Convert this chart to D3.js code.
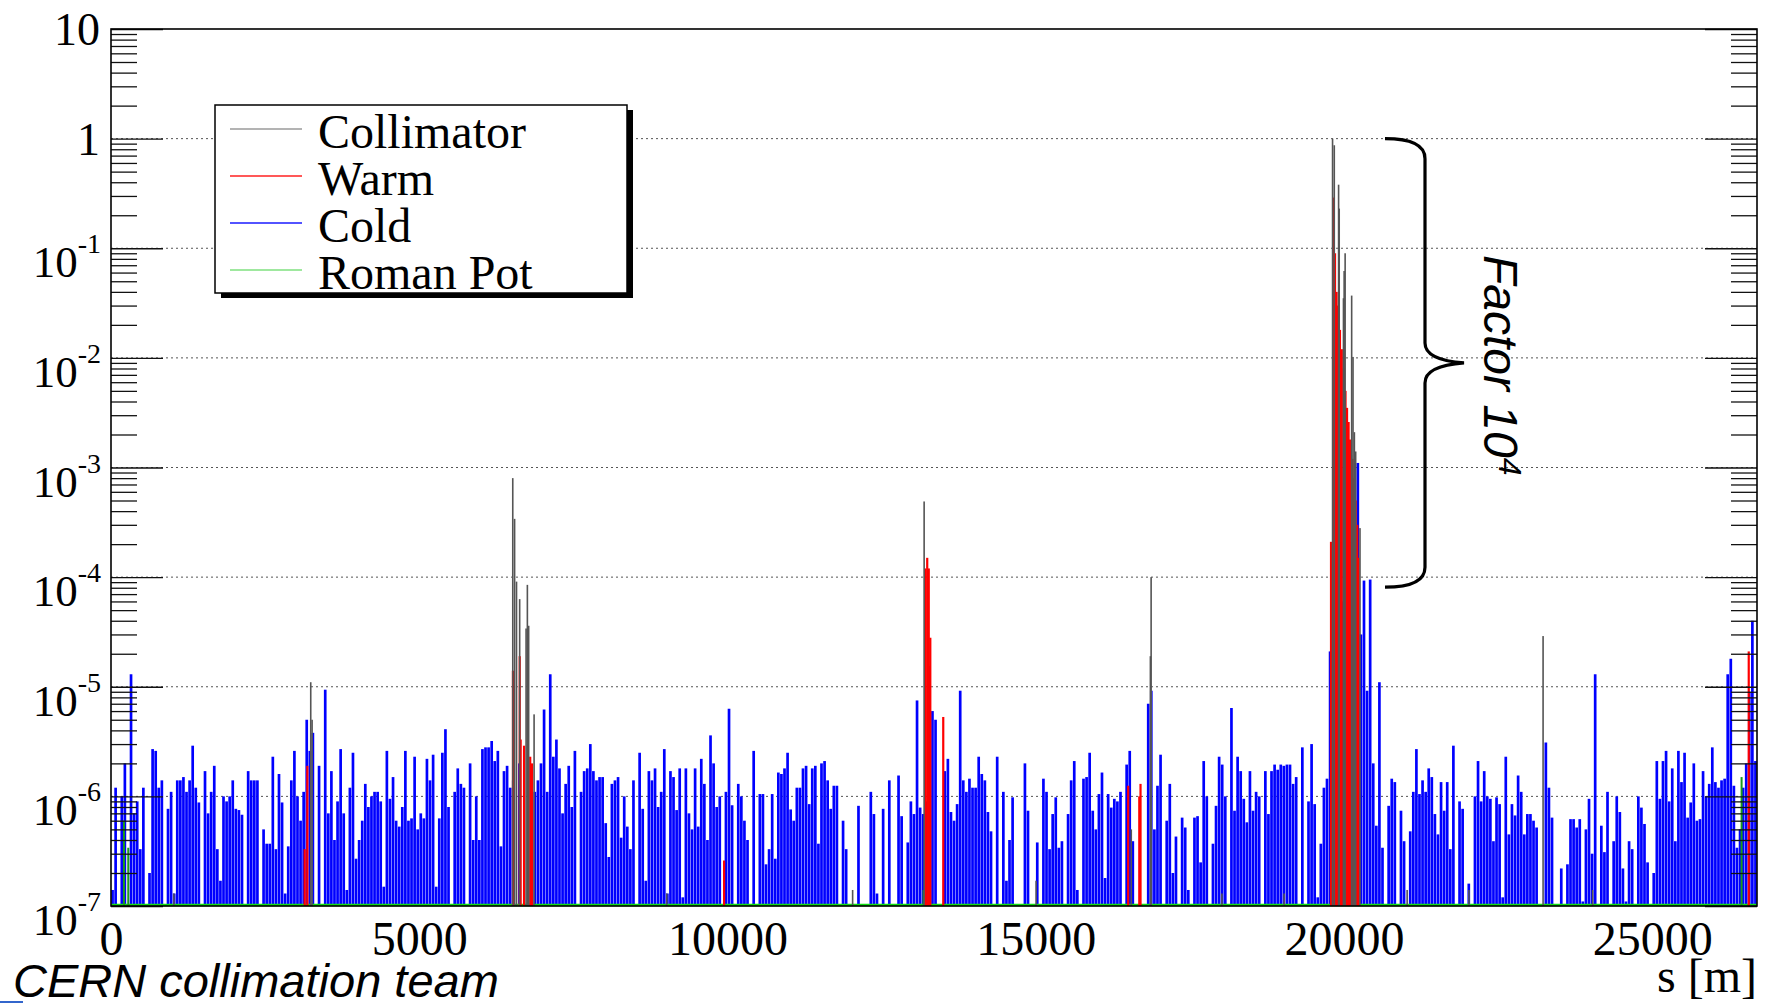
<!DOCTYPE html>
<html>
<head>
<meta charset="utf-8">
<script src="https://cdn.jsdelivr.net/npm/d3@7/dist/d3.min.js"></script>
<style>
  html, body { margin: 0; padding: 0; background: #fff; }
  svg { display: block; }
</style>
</head>
<body>
<div id="chart"></div>
<script>
// cold losses, one value per 50 m bin, in units of 1e-6 (0 = no loss)
const binWidth = 50;
const coldUnit = 1e-6;
const coldLoss = [
  0.14, 1.2, 0, 1.0, 2.0, 0, 13, 0.7, 0.9, 0.33,
  1.2, 0, 0.2, 2.7, 2.6, 1.2, 1.4, 0, 0.77, 1.1,
  0.13, 1.4, 1.4, 1.5, 1.1, 1.4, 2.9, 1.2, 0.88, 0,
  1.7, 0.7, 1.1, 1.9, 0.33, 0.17, 1.0, 0.9, 1.0, 1.4,
  0.77, 0.75, 0.68, 0, 1.7, 1.4, 1.4, 1.4, 0, 0.5,
  0.37, 0.37, 2.3, 0.33, 1.6, 0.88, 0.13, 0.35, 1.4, 2.6,
  1.0, 0.6, 1.1, 5.0, 2.6, 3.8, 0, 1.9, 0, 9.4,
  0.7, 1.7, 0.4, 0.9, 2.7, 0.7, 0.14, 1.2, 2.5, 0.27,
  0.4, 0.6, 1.3, 0.8, 1.0, 1.1, 1.1, 0.9, 0.15, 2.6,
  0.95, 1.5, 0.6, 0.53, 0.8, 2.6, 0.6, 0.63, 2.3, 0.5,
  0.7, 0.63, 2.2, 1.4, 2.4, 0.15, 0.63, 2.5, 4.1, 0.8,
  0, 1.1, 1.8, 1.3, 1.2, 0, 2.0, 0.4, 1.0, 0.4,
  2.7, 2.8, 2.8, 3.2, 2.1, 2.6, 0.35, 1.7, 1.9, 1.2,
  1.4, 0, 2.0, 0, 0, 0, 0, 1.1, 1.4, 2.0,
  6.2, 1.1, 13, 2.3, 3.3, 1.8, 0.7, 1.3, 1.9, 0.8,
  2.6, 0, 1.1, 1.7, 1.8, 3.0, 1.7, 1.4, 1.5, 1.5,
  0.57, 0.28, 1.3, 1.4, 1.5, 0.42, 1.0, 0.53, 0.33, 1.4,
  0, 2.5, 0.77, 0.17, 1.7, 1.4, 1.8, 0.8, 1.1, 2.7,
  0.13, 1.7, 1.5, 0.75, 1.8, 0.12, 1.8, 0.7, 0.5, 1.8,
  0.53, 2.2, 1.3, 0.4, 3.6, 2.0, 0.8, 1.0, 0, 1.1,
  6.3, 0.83, 0, 1.3, 1.0, 0.6, 0.4, 0, 2.6, 0,
  1.05, 1.05, 0.24, 0.33, 1.05, 0.27, 1.65, 1.6, 1.8, 2.5,
  0.76, 0.6, 1.2, 1.2, 1.8, 1.9, 0.85, 1.8, 1.9, 0.37,
  2.0, 2.1, 1.4, 0.77, 1.25, 1.25, 0.1, 0.6, 0.33, 0,
  0, 0, 0.82, 0, 0, 0, 1.1, 0.69, 0.13, 0,
  0.77, 0, 1.4, 0, 0, 1.55, 0.66, 0, 0.38, 0.9,
  0.69, 7.5, 0.79, 0.69, 0.9, 15.5, 6.0, 5.0, 0, 0,
  1.7, 2.2, 0.72, 0.6, 0.85, 9.2, 1.4, 1.1, 1.45, 1.2,
  1.2, 2.3, 1.6, 1.4, 0.72, 0.48, 0, 2.3, 0, 1.1,
  0.17, 0.4, 0.98, 0, 0, 0, 2.0, 0.74, 0, 0,
  0.38, 0, 1.45, 1.1, 0.33, 0.69, 0.98, 0.34, 0.39, 0,
  0.69, 1.4, 2.1, 0.14, 0, 1.45, 1.5, 2.5, 0.74, 0.5,
  1.05, 1.65, 0.18, 1.05, 0.79, 0.95, 0.9, 1.1, 0, 1.95,
  2.6, 0.39, 0, 0, 0, 0, 7.0, 9.2, 0.5, 1.25,
  2.4, 0, 0.6, 1.3, 0.2, 0.43, 0, 0.64, 0.52, 0.14,
  0, 0.64, 0.66, 0.25, 2.1, 1.0, 0, 0.37, 0.82, 2.3,
  1.95, 1.0, 0, 6.4, 0.74, 2.3, 1.7, 0.95, 0.58, 1.7,
  0.74, 1.1, 1.0, 0, 1.7, 0.69, 1.7, 1.95, 1.75, 1.95,
  1.9, 1.95, 1.95, 1.3, 1.5, 0, 2.8, 0, 0.9, 3.0,
  0.85, 0.12, 0.37, 1.2, 1.45, 21, 30, 50, 40, 60,
  80, 100, 150, 300, 1100, 30, 93, 9.2, 95, 2.0,
  0.54, 11, 0.34, 0, 0.82, 1.45, 1.35, 0, 0.74, 0.39,
  0, 0.48, 1.1, 2.7, 1.05, 1.4, 1.1, 1.8, 1.5, 0.69,
  0.45, 1.35, 0.74, 1.35, 0.33, 2.9, 0, 0.9, 0.77, 0,
  0.16, 0, 1.0, 2.1, 0.9, 1.7, 1.0, 0.95, 0.39, 0.98,
  0.85, 0.12, 2.3, 0.45, 0.85, 0.67, 1.55, 1.1, 0.45, 0.69,
  0.69, 0.6, 0.52, 0, 0, 3.1, 1.2, 0.64, 0, 0,
  0.22, 0, 0.24, 0.62, 0.62, 0.52, 0.62, 0.11, 0.5, 0.95,
  0.3, 13, 0, 0.54, 0.31, 1.1, 0, 0.39, 1.0, 0.72,
  0.22, 0.11, 0.39, 0.33, 0, 1.0, 0.79, 0.56, 0.25, 0,
  0.2, 2.1, 0.95, 2.1, 2.6, 0.9, 1.8, 0.39, 2.6, 1.35,
  2.5, 0.64, 0.88, 2.0, 0.6, 0.62, 1.7, 1.0, 1.3, 2.8,
  1.35, 1.2, 1.4, 1.45, 13, 18, 1.25, 0.34, 0.5, 1.2,
  2.0, 9, 40, 2.1
];

const collimatorS = [1020, 3240, 3262, 6517, 6547, 6578, 6629, 6733, 6754, 6775, 6863, 9015,
  12030, 13190, 15006, 16550, 16860, 16872, 18020, 19030, 19815, 19843, 19913, 19923, 19992,
  20003, 20019, 20125, 20147, 20169, 20190, 20260, 21025, 22027, 23230, 24034];
const collimatorLoss = [1.3e-7, 1.1e-5, 5e-6, 8.0e-4, 3.4e-4, 9.1e-5, 6.3e-5, 3.4e-5, 8.5e-5, 3.6e-5, 5.6e-6, 1.3e-7,
  1.4e-7, 4.9e-4, 1.7e-7, 5e-7, 1.9e-5, 1.0e-4, 1.3e-7, 1.3e-7, 1.0, 0.87, 0.38, 0.23, 0.035,
  0.062, 0.09, 0.037, 0.0102, 2.1e-3, 1.4e-3, 2.8e-4, 1.4e-7, 1.4e-7, 2.9e-5, 1.4e-7];

const warmS = [3142, 3185, 6520, 6630, 6645, 6700, 6800, 6830, 9945, 13210, 13240, 13265, 13290,
  13500, 16500, 16680, 16700, 19790, 19825, 19855, 19880, 19905, 19935, 19965, 19995, 20025,
  20050, 20075, 20100, 20115, 20140, 20165, 20190, 20215, 20235, 26566];
const warmLoss = [3.3e-7, 1.9e-6, 1.4e-5, 1.9e-5, 3.3e-6, 2.9e-6, 2.3e-6, 2.0e-6, 2.6e-7, 1.2e-4, 1.5e-4, 1.2e-4, 2.8e-5,
  5.3e-6, 1.25e-6, 1.0e-6, 1.3e-6, 2.1e-4, 0.29, 0.09, 0.04, 0.03, 0.018, 0.012, 0.008, 0.005,
  0.0035, 2.6e-3, 1.8e-3, 1.3e-3, 1.2e-3, 8e-4, 5e-4, 3e-4, 1.5e-4, 2.1e-5];

const romanPotS = [210, 280, 13180, 26450];
const romanPotLoss = [6e-7, 3.4e-7, 1.4e-7, 1.5e-6];

const xTicks = [0, 5000, 10000, 15000, 20000, 25000];
const yExponents = [-7, -6, -5, -4, -3, -2, -1, 0, 1];
const legendLabels = ['Collimator', 'Warm', 'Cold', 'Roman Pot'];
const legendColors = ['#9a9a9a', '#ff2020', '#1a1aff', '#7fe07f'];

const W = 1767, H = 1004;
const serif = "'Liberation Serif', 'Times New Roman', serif";
const sans = "'Liberation Sans', Arial, sans-serif";

const x = d3.scaleLinear().domain([0, 26700]).range([111, 1757]);
const y = d3.scaleLog().domain([1e-7, 10]).range([906, 29]);
const x0 = x.range()[0], x1 = x.range()[1];
const yBase = y(1e-7);

const svg = d3.select('#chart').append('svg')
  .attr('width', W).attr('height', H)
  .style('background', '#fff');

// grid lines (dotted) at every decade inside the frame
const gridVals = yExponents.filter(e => e > -7 && e < 1).map(e => Math.pow(10, e));
svg.append('g').selectAll('line')
  .data(gridVals).join('line')
  .attr('x1', x0).attr('x2', x1)
  .attr('y1', d => y(d)).attr('y2', d => y(d))
  .attr('stroke', '#555')
  .attr('stroke-width', 1)
  .attr('stroke-dasharray', '2,3');

// cold (blue) bins
const coldData = coldLoss
  .map((v, i) => ({ s: i * binWidth + binWidth / 2, v: v * coldUnit }))
  .filter(d => d.v > 1e-7);
const binPx = x(binWidth) - x(0);
svg.append('g').selectAll('rect')
  .data(coldData).join('rect')
  .attr('x', d => x(d.s) - (binPx - 0.4) / 2)
  .attr('width', binPx - 0.4)
  .attr('y', d => y(d.v))
  .attr('height', d => yBase - y(d.v))
  .attr('fill', '#0000ff');

// roman pots (green)
svg.append('line')
  .attr('x1', x0).attr('x2', x1)
  .attr('y1', yBase - 1).attr('y2', yBase - 1)
  .attr('stroke', '#11dd11').attr('stroke-width', 2.5);
svg.append('g').selectAll('rect')
  .data(romanPotS.map((s, i) => ({ s, v: romanPotLoss[i] }))).join('rect')
  .attr('x', d => x(d.s) - 1)
  .attr('width', 2)
  .attr('y', d => y(d.v))
  .attr('height', d => yBase - y(d.v))
  .attr('fill', '#1a9a1a');

// warm (red)
svg.append('g').selectAll('rect')
  .data(warmS.map((s, i) => ({ s, v: warmLoss[i] }))).join('rect')
  .attr('x', d => x(d.s) - 1.1)
  .attr('width', 2.2)
  .attr('y', d => y(d.v))
  .attr('height', d => yBase - y(d.v))
  .attr('fill', '#ff0000');

// collimators (gray/black)
svg.append('g').selectAll('rect')
  .data(collimatorS.map((s, i) => ({ s, v: collimatorLoss[i] }))).join('rect')
  .attr('x', d => x(d.s) - 0.8)
  .attr('width', 1.6)
  .attr('y', d => y(d.v))
  .attr('height', d => yBase - y(d.v))
  .attr('fill', '#555');

// ticks on both vertical frame sides
const majorVals = yExponents.map(e => Math.pow(10, e));
const minorVals = [];
yExponents.slice(0, -1).forEach(e => {
  for (let k = 2; k <= 9; k++) minorVals.push(k * Math.pow(10, e));
});

function tickAxis(axisFn, tx, vals, size) {
  const g = svg.append('g')
    .attr('transform', `translate(${tx},0)`)
    .call(axisFn(y).tickValues(vals).tickSize(size).tickFormat(''));
  g.select('.domain').remove();
  g.selectAll('line').attr('stroke', '#111').attr('stroke-width', 1.3);
}
tickAxis(d3.axisRight, x0, minorVals, 26);
tickAxis(d3.axisRight, x0, majorVals, 52);
tickAxis(d3.axisLeft, x1, minorVals, 26);
tickAxis(d3.axisLeft, x1, majorVals, 52);

// frame
svg.append('rect')
  .attr('x', x0).attr('y', y(10))
  .attr('width', x1 - x0).attr('height', yBase - y(10))
  .attr('fill', 'none').attr('stroke', '#000').attr('stroke-width', 1.6);

// y labels: 10^{e}
const yLab = svg.append('g')
  .style('font-family', serif)
  .attr('fill', '#000');
yExponents.forEach(e => {
  const ty = y(Math.pow(10, e));
  if (e === 0 || e === 1) {
    yLab.append('text')
      .attr('x', 100).attr('y', ty + 16)
      .attr('text-anchor', 'end')
      .style('font-size', '46px')
      .text(e === 0 ? '1' : '10');
  } else {
    const t = yLab.append('text')
      .attr('x', 101).attr('y', ty + 29)
      .attr('text-anchor', 'end')
      .style('font-size', '45px');
    t.append('tspan').text('10');
    t.append('tspan').attr('dy', -24).style('font-size', '28px').text(String(e));
  }
});

// x axis labels
const xAxis = svg.append('g')
  .attr('transform', `translate(0,${yBase})`)
  .call(d3.axisBottom(x).tickValues(xTicks).tickSize(0).tickPadding(15).tickFormat(d3.format('d')));
xAxis.select('.domain').remove();
xAxis.selectAll('text')
  .style('font-family', serif)
  .style('font-size', '48px')
  .attr('fill', '#000');

svg.append('text')
  .attr('x', x1).attr('y', 992)
  .attr('text-anchor', 'end')
  .style('font-family', serif).style('font-size', '48px')
  .text('s [m]');

// legend
const lg = svg.append('g');
lg.append('rect').attr('x', 221).attr('y', 110).attr('width', 412).attr('height', 188).attr('fill', '#000');
lg.append('rect').attr('x', 215).attr('y', 105).attr('width', 412).attr('height', 188)
  .attr('fill', '#fff').attr('stroke', '#000').attr('stroke-width', 1.5);
legendLabels.forEach((lab, i) => {
  const cy = 129 + i * 47;
  lg.append('line').attr('x1', 230).attr('x2', 302).attr('y1', cy).attr('y2', cy)
    .attr('stroke', legendColors[i]).attr('stroke-width', 1.6);
  lg.append('text').attr('x', 318).attr('y', cy + 19)
    .style('font-family', serif).style('font-size', '48px')
    .text(lab);
});

// brace annotation spanning 1 .. 1e-4
const bTop = y(1), bBot = y(1e-4) + 10, bMid = (bTop + bBot) / 2;
const bx = 1425;
svg.append('path')
  .attr('d', `M1385,${bTop} Q${bx},${bTop} ${bx},${bTop + 20} L${bx},${bMid - 20} ` +
    `Q${bx},${bMid - 3} 1464,${bMid} Q${bx},${bMid + 3} ${bx},${bMid + 20} ` +
    `L${bx},${bBot - 20} Q${bx},${bBot} 1385,${bBot}`)
  .attr('fill', 'none').attr('stroke', '#000').attr('stroke-width', 3.2);

const ft = svg.append('text')
  .attr('transform', 'translate(1484,255) rotate(90)')
  .style('font-family', sans).style('font-style', 'italic').style('font-size', '48px')
  .attr('fill', '#000');
ft.append('tspan').text('Factor 10');
ft.append('tspan').attr('dy', -15).style('font-size', '32px').text('4');

svg.append('text')
  .attr('x', 13).attr('y', 997)
  .style('font-family', sans).style('font-style', 'italic').style('font-size', '47px')
  .text('CERN collimation team');

svg.append('line')
  .attr('x1', 0).attr('x2', 23).attr('y1', 1002).attr('y2', 1002)
  .attr('stroke', '#3366cc').attr('stroke-width', 2);
</script>
</body>
</html>
